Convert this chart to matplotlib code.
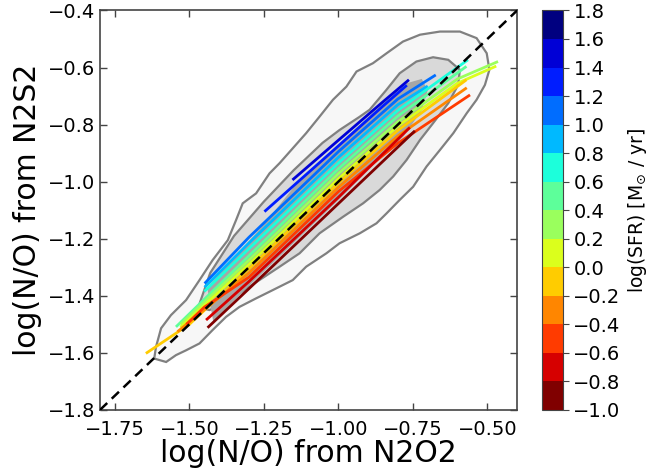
import numpy as np
import matplotlib
matplotlib.use("Agg")
import matplotlib.pyplot as plt
from matplotlib.colors import ListedColormap, BoundaryNorm

# density contours (outline points)
outer_x = [-1.618, -1.612, -1.595, -1.562, -1.511, -1.466, -1.422, -1.371, -1.343, -1.321,
           -1.276, -1.231, -1.197, -1.158, -1.108, -1.063, -1.018, -0.973, -0.939, -0.884,
           -0.838, -0.783, -0.726, -0.659, -0.592, -0.536, -0.502, -0.493, -0.508, -0.536,
           -0.569, -0.614, -0.659, -0.704, -0.749, -0.794, -0.838, -0.872, -0.928, -0.996,
           -1.040, -1.108, -1.153, -1.220, -1.276, -1.332, -1.377, -1.422, -1.466, -1.511,
           -1.545, -1.578]
outer_y = [-1.620, -1.579, -1.514, -1.468, -1.415, -1.345, -1.275, -1.205, -1.134, -1.076,
           -1.041, -0.971, -0.935, -0.889, -0.830, -0.772, -0.713, -0.667, -0.614, -0.585,
           -0.550, -0.509, -0.485, -0.474, -0.474, -0.497, -0.550, -0.608, -0.661, -0.713,
           -0.760, -0.830, -0.889, -0.947, -1.018, -1.064, -1.111, -1.146, -1.181, -1.216,
           -1.251, -1.298, -1.345, -1.380, -1.409, -1.439, -1.474, -1.520, -1.567, -1.591,
           -1.608, -1.632]

inner_x = [-1.47, -1.433, -1.377, -1.332, -1.265, -1.197, -1.130, -1.063, -0.984, -0.917,
           -0.861, -0.816, -0.771, -0.726, -0.682, -0.631, -0.598, -0.592, -0.631, -0.682,
           -0.738, -0.794, -0.84, -0.895, -0.929, -0.996, -1.053, -1.15, -1.25, -1.35, -1.43]
inner_y = [-1.44, -1.450, -1.427, -1.392, -1.345, -1.298, -1.251, -1.181, -1.123, -1.076,
           -1.029, -0.982, -0.924, -0.854, -0.795, -0.725, -0.661, -0.608, -0.573, -0.564,
           -0.579, -0.620, -0.68, -0.748, -0.773, -0.819, -0.864, -0.96, -1.07, -1.19, -1.32]

core_x = [-1.44, -1.25, -1.15, -1.0, -0.85, -0.77, -0.72, -0.70, -0.72, -0.78, -0.88,
          -1.0, -1.15, -1.30, -1.42]
core_y = [-1.37, -1.15, -1.02, -0.87, -0.725, -0.655, -0.64, -0.68, -0.75, -0.84, -0.94,
          -1.065, -1.215, -1.365, -1.49]

# median tracks, one per SFR bin
sfr_bins = [1.5, 1.3, 1.1, 0.9, 0.7, 0.5, 0.3, 0.1, -0.1, -0.3, -0.5, -0.7, -0.9]
track_x = [
    [-1.154, -1.0, -0.85, -0.763],
    [-1.248, -1.0, -0.85, -0.77],
    [-1.449, -1.3, -1.0, -0.8, -0.673],
    [-1.449, -1.3, -1.0, -0.8, -0.70],
    [-1.45, -1.3, -1.0, -0.8, -0.565],
    [-1.545, -1.3, -1.0, -0.8, -0.57],
    [-1.53, -1.3, -1.0, -0.8, -0.6, -0.464],
    [-1.53, -1.3, -1.0, -0.8, -0.6, -0.47],
    [-1.646, -1.5, -1.3, -1.0, -0.8, -0.57],
    [-1.54, -1.3, -1.0, -0.8, -0.569],
    [-1.51, -1.45, -1.3, -1.0, -0.8, -0.558],
    [-1.444, -1.3, -1.0, -0.76],
    [-1.439, -1.3, -1.0, -0.743],
]
track_y = [
    [-0.994, -0.855, -0.72, -0.643],
    [-1.105, -0.875, -0.735, -0.662],
    [-1.357, -1.195, -0.895, -0.71, -0.626],
    [-1.37, -1.215, -0.915, -0.73, -0.665],
    [-1.385, -1.235, -0.935, -0.75, -0.573],
    [-1.509, -1.26, -0.955, -0.77, -0.596],
    [-1.50, -1.275, -0.972, -0.79, -0.64, -0.579],
    [-1.51, -1.29, -0.99, -0.805, -0.655, -0.595],
    [-1.602, -1.50, -1.305, -1.005, -0.82, -0.643],
    [-1.526, -1.32, -1.02, -0.84, -0.671],
    [-1.50, -1.44, -1.335, -1.035, -0.865, -0.696],
    [-1.485, -1.35, -1.055, -0.81],
    [-1.512, -1.375, -1.077, -0.822],
]

sfr_levels = np.round(np.arange(-1.0, 1.81, 0.2), 1)
cmap = ListedColormap(plt.get_cmap("jet_r")(np.linspace(0, 1, len(sfr_levels) - 1)))
norm = BoundaryNorm(sfr_levels, cmap.N)

fig = plt.figure(figsize=(6.48, 4.75), dpi=100)
ax = fig.add_axes([0.1543, 0.137, 0.6437, 0.841])
cax = fig.add_axes([0.8364, 0.137, 0.0324, 0.841])

ax.fill(outer_x, outer_y, facecolor="#f7f7f7", edgecolor="#808080", lw=1.6, zorder=1)
ax.fill(inner_x, inner_y, facecolor="#d9d9d9", edgecolor="#808080", lw=1.6, zorder=2)
ax.fill(core_x, core_y, facecolor="#a6a6a6", edgecolor="none", zorder=3)

for s, xs, ys in zip(sfr_bins, track_x, track_y):
    ax.plot(xs, ys, color=cmap(norm(s)), lw=2.0, solid_capstyle="butt", zorder=4)

ax.plot([-1.8, -0.4], [-1.8, -0.4], color="black", ls=(0, (4, 2.5)), lw=1.8, zorder=5)

ax.set_xlim(-1.8, -0.4)
ax.set_ylim(-1.8, -0.4)
ax.set_xticks([-1.75, -1.5, -1.25, -1.0, -0.75, -0.5])
ax.set_yticks(np.round(np.arange(-1.8, -0.39, 0.2), 1))
ax.tick_params(direction="in", top=True, right=True, labelsize=14, length=5,
               color="#444444", width=1)
ax.tick_params(axis="x", pad=7)
for sp in ax.spines.values():
    sp.set_color("#444444")
    sp.set_linewidth(1.2)
ax.set_xlabel("log(N/O) from N2O2", fontsize=21.5, labelpad=0)
ax.set_ylabel("log(N/O) from N2S2", fontsize=21.5, labelpad=4)

sm = plt.cm.ScalarMappable(cmap=cmap, norm=norm)
cb = fig.colorbar(sm, cax=cax, ticks=sfr_levels)
cb.ax.tick_params(labelsize=14, length=4, color="#444444")
cb.outline.set_edgecolor("#444444")
cb.set_label(r"log(SFR) [M$_{\odot}$ / yr]", fontsize=13.5)

fig.savefig("out.png", dpi=100)
